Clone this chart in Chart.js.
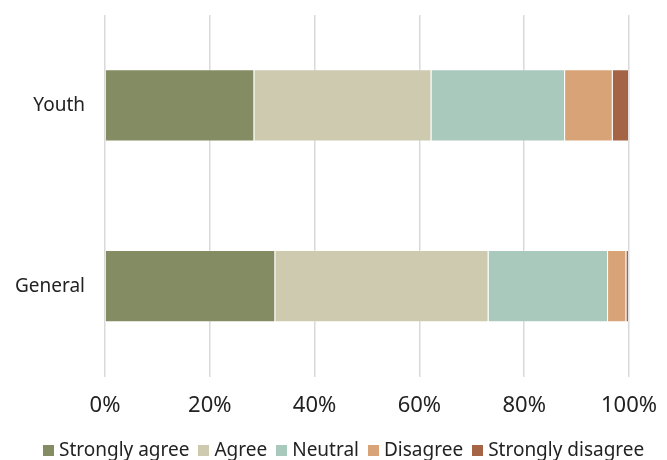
<!DOCTYPE html>
<html>
<head>
<meta charset="utf-8">
<script src="https://cdn.jsdelivr.net/npm/chart.js@4.4.1/dist/chart.umd.min.js"></script>
<style>
  html, body { margin: 0; padding: 0; background: #ffffff; }
  #wrap { width: 667px; height: 460px; position: relative; }
  #legend {
    position: absolute; left: 43px; top: 438px;
    font-family: "Noto Sans", "Open Sans", sans-serif;
    font-size: 19px; line-height: 22px; color: #222222;
    white-space: nowrap;
  }
  #legend .item { display: inline-block; margin-right: 9px; }
  #legend .box { display: inline-block; width: 11px; height: 11px; margin-right: 5px; vertical-align: baseline; }
</style>
</head>
<body>
<div id="wrap"><canvas id="chart"></canvas><div id="legend"></div></div>
<script>
// Survey groups (top to bottom)
const groups = ['Youth', 'General'];

// Share of responses per group, in percent
const stronglyAgree    = [28.5, 32.5];
const agree            = [33.8, 40.7];
const neutral          = [25.5, 22.8];
const disagree         = [9.1, 3.5];
const stronglyDisagree = [3.1, 0.5];

const seriesNames = ['Strongly agree', 'Agree', 'Neutral', 'Disagree', 'Strongly disagree'];
const seriesColors = ['#838c63', '#cdcab0', '#a9c9bc', '#d8a376', '#a66446'];
const seriesValues = [stronglyAgree, agree, neutral, disagree, stronglyDisagree];

const xTicks = [0, 20, 40, 60, 80, 100];

const FONT = '"Noto Sans", "Open Sans", sans-serif';

const datasets = seriesNames.map((name, i) => ({
  label: name,
  data: seriesValues[i],
  backgroundColor: seriesColors[i],
  borderColor: 'rgba(255,255,255,0.25)',
  borderWidth: 1,
  barPercentage: 0.4,
  categoryPercentage: 1.0
}));

const chart = new Chart(document.getElementById('chart'), {
  type: 'bar',
  data: { labels: groups, datasets },
  options: {
    indexAxis: 'y',
    responsive: true,
    maintainAspectRatio: false,
    animation: false,
    layout: { padding: { top: 15, right: 38, left: 0, bottom: 25 } },
    scales: {
      x: {
        stacked: true,
        min: 0,
        max: 100,
        afterBuildTicks: (axis) => { axis.ticks = xTicks.map(v => ({ value: v })); },
        // the outer padding alone sets the plot edges
        afterFit: (scale) => { scale.paddingLeft = 0; scale.paddingRight = 0; },
        border: { display: false },
        grid: { color: '#d9d9d9', lineWidth: 1.5, drawTicks: false },
        ticks: {
          padding: 16,
          color: '#222222',
          font: { family: FONT, size: 22 },
          callback: (v) => v + '%'
        }
      },
      y: {
        stacked: true,
        afterFit: (scale) => {
          scale.width = 105;
          scale.paddingTop = 0;
          scale.paddingBottom = 0;
        },
        border: { display: false },
        grid: { display: false, drawTicks: false },
        ticks: {
          padding: 20,
          color: '#222222',
          font: { family: FONT, size: 19 }
        }
      }
    },
    plugins: {
      legend: { display: false },
      tooltip: { enabled: false }
    }
  }
});

// Legend row built from the same series names and colours
const legendEl = document.getElementById('legend');
chart.data.datasets.forEach((ds) => {
  const item = document.createElement('span');
  item.className = 'item';
  const box = document.createElement('span');
  box.className = 'box';
  box.style.background = ds.backgroundColor;
  item.appendChild(box);
  item.appendChild(document.createTextNode(ds.label));
  legendEl.appendChild(item);
});
</script>
</body>
</html>
